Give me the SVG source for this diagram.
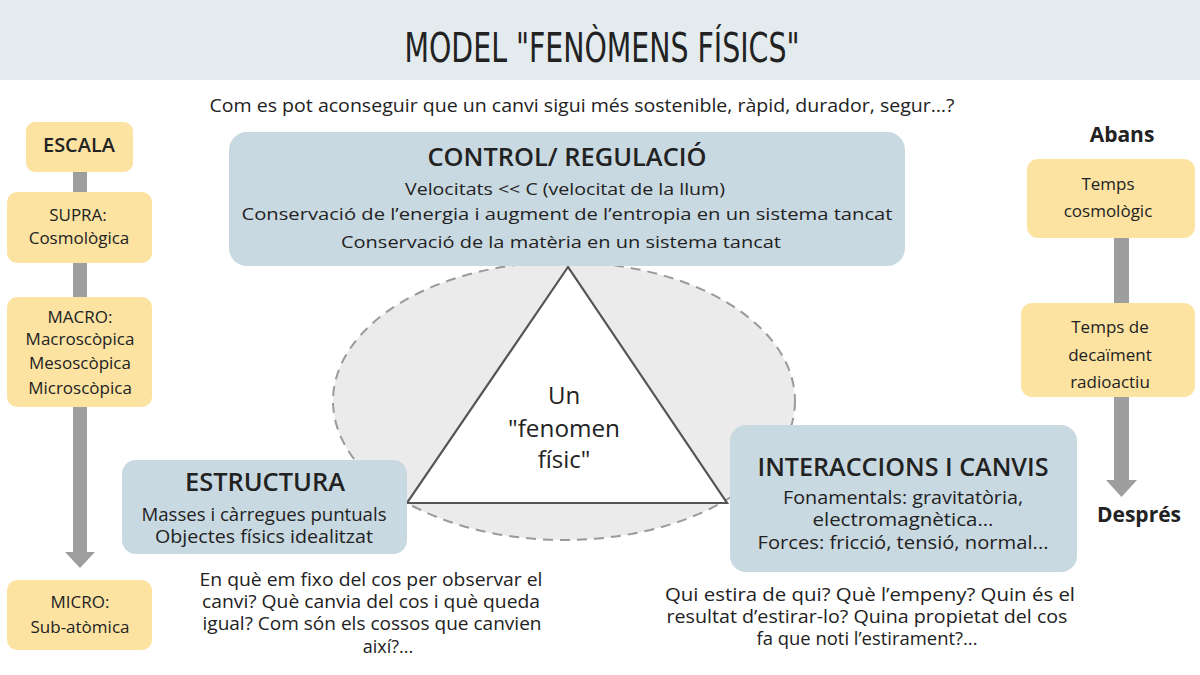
<svg xmlns="http://www.w3.org/2000/svg" width="1200" height="675" viewBox="0 0 1200 675">
<style>
text{font-family:"Open Sans","DejaVu Sans",sans-serif;fill:#222;text-anchor:middle}
.t{font-size:17px}
.q{font-size:18px}
.c{font-size:17px}
.h{font-size:25px;font-weight:600}
.y{fill:#fce3a2}
.b{fill:#c9d9e1}
.bar{fill:#9e9e9e}
.lbl{font-size:21px;font-weight:700}
</style>
<rect x="0" y="0" width="1200" height="675" fill="#ffffff"/>
<rect x="0" y="0" width="1200" height="80" fill="#e3ebee"/>
<text x="602" y="62" style="font-family:'DejaVu Sans Condensed','Liberation Sans Narrow','DejaVu Sans',sans-serif;font-stretch:condensed;font-size:40px" textLength="395" lengthAdjust="spacingAndGlyphs">MODEL "FENÒMENS FÍSICS"</text>
<text class="q" x="582" y="112" textLength="745" lengthAdjust="spacingAndGlyphs">Com es pot aconseguir que un  canvi sigui més sostenible,  ràpid, durador, segur…?</text>

<g id="connectors">
<rect class="bar" x="73" y="165" width="14" height="388"/>
<polygon class="bar" points="65,552 95,552 80,568"/>
<rect class="bar" x="1114" y="235" width="15" height="246"/>
<polygon class="bar" points="1106,480 1137,480 1121.5,497"/>
</g>

<g id="ellipse-core">
<ellipse cx="564" cy="401" rx="231" ry="139" fill="#ebebeb" stroke="#9a9a9a" stroke-width="2" stroke-dasharray="10 7"/>
<polygon points="568,267 407,503 727,503" fill="#ffffff" stroke="#555" stroke-width="2.2"/>
<text x="564" y="404" style="font-size:24px">Un</text>
<text x="564" y="437" style="font-size:24px" textLength="112" lengthAdjust="spacingAndGlyphs">"fenomen</text>
<text x="564" y="468" style="font-size:24px">físic"</text>
</g>

<g id="control">
<rect class="b" x="229" y="132" width="676" height="134" rx="18"/>
<text class="h" x="567" y="166" textLength="279" lengthAdjust="spacingAndGlyphs">CONTROL/ REGULACIÓ</text>
<text class="c" x="565" y="195" textLength="320" lengthAdjust="spacingAndGlyphs">Velocitats &lt;&lt; C (velocitat de la llum)</text>
<text class="c" x="567" y="220" textLength="651" lengthAdjust="spacingAndGlyphs">Conservació de l’energia i augment de l’entropia en un sistema tancat</text>
<text class="c" x="561" y="248" textLength="440" lengthAdjust="spacingAndGlyphs">Conservació de la matèria en un sistema tancat</text>
</g>

<g id="estructura">
<rect class="b" x="122" y="460" width="285" height="94" rx="14"/>
<text class="h" x="265" y="491" textLength="160" lengthAdjust="spacingAndGlyphs">ESTRUCTURA</text>
<text class="q" x="264" y="521" textLength="245" lengthAdjust="spacingAndGlyphs">Masses i càrregues puntuals</text>
<text class="q" x="264" y="543" textLength="218" lengthAdjust="spacingAndGlyphs">Objectes físics idealitzat</text>
</g>
<g id="estructura-q">
<text class="q" x="371" y="586" textLength="343" lengthAdjust="spacingAndGlyphs">En què em fixo del cos per observar el</text>
<text class="q" x="371" y="608" textLength="338" lengthAdjust="spacingAndGlyphs">canvi? Què canvia del cos i què queda</text>
<text class="q" x="372" y="630" textLength="339" lengthAdjust="spacingAndGlyphs">igual? Com són els cossos que canvien</text>
<text class="q" x="388" y="653">així?...</text>
</g>

<g id="interaccions">
<rect class="b" x="730" y="425" width="347" height="147" rx="16"/>
<text class="h" x="903" y="476" textLength="291" lengthAdjust="spacingAndGlyphs">INTERACCIONS I CANVIS</text>
<text class="q" x="903" y="504" textLength="240" lengthAdjust="spacingAndGlyphs">Fonamentals: gravitatòria,</text>
<text class="q" x="903" y="526" textLength="181" lengthAdjust="spacingAndGlyphs">electromagnètica...</text>
<text class="q" x="903" y="549" textLength="291" lengthAdjust="spacingAndGlyphs">Forces: fricció, tensió, normal...</text>
</g>
<g id="interaccions-q">
<text class="q" x="870" y="601" textLength="410" lengthAdjust="spacingAndGlyphs">Qui estira de qui? Què l’empeny? Quin és el</text>
<text class="q" x="867" y="623" textLength="401" lengthAdjust="spacingAndGlyphs">resultat d’estirar-lo? Quina propietat del cos</text>
<text class="q" x="867" y="645" textLength="221" lengthAdjust="spacingAndGlyphs">fa que noti l’estirament?...</text>
</g>

<g id="escala">
<rect class="y" x="26" y="122" width="107" height="50" rx="9"/>
<text x="79" y="152" style="font-size:19px;font-weight:600" textLength="72" lengthAdjust="spacingAndGlyphs">ESCALA</text>
</g>
<g id="supra">
<rect class="y" x="7" y="192" width="145" height="71" rx="10"/>
<text class="t" x="78" y="221">SUPRA:</text>
<text class="t" x="79" y="244">Cosmològica</text>
</g>
<g id="macro">
<rect class="y" x="7" y="297" width="145" height="110" rx="10"/>
<text class="t" x="80" y="323">MACRO:</text>
<text class="t" x="80" y="345">Macroscòpica</text>
<text class="t" x="80" y="369">Mesoscòpica</text>
<text class="t" x="80" y="394">Microscòpica</text>
</g>
<g id="micro">
<rect class="y" x="7" y="580" width="145" height="70" rx="10"/>
<text class="t" x="80" y="608">MICRO:</text>
<text class="t" x="80" y="633">Sub-atòmica</text>
</g>

<g id="abans">
<text class="lbl" x="1122" y="142">Abans</text>
</g>
<g id="temps-cosmologic">
<rect class="y" x="1027" y="159" width="168" height="79" rx="11"/>
<text class="t" x="1108" y="190">Temps</text>
<text class="t" x="1108" y="217">cosmològic</text>
</g>
<g id="temps-decaiment">
<rect class="y" x="1021" y="303" width="174" height="94" rx="11"/>
<text class="t" x="1110" y="333">Temps de</text>
<text class="t" x="1110" y="361">decaïment</text>
<text class="t" x="1110" y="388">radioactiu</text>
</g>
<g id="despres">
<text class="lbl" x="1139" y="522">Després</text>
</g>
</svg>
